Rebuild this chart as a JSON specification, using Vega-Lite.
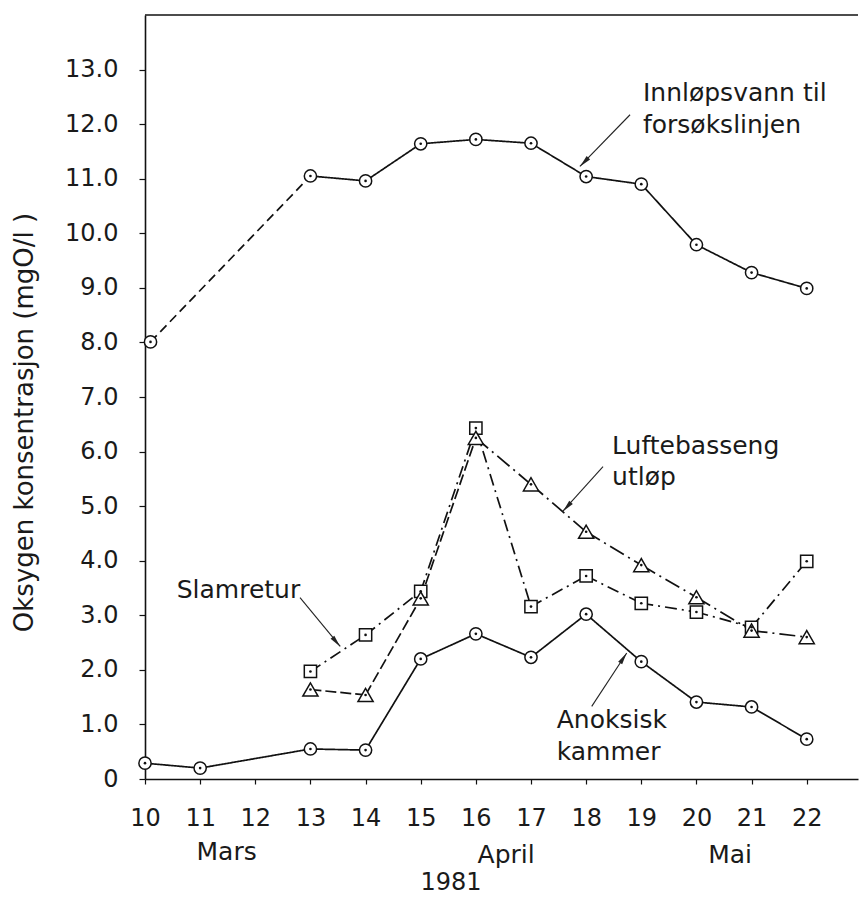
{
  "$schema": "https://vega.github.io/schema/vega-lite/v6.json",
  "autosize": {"type": "none"},
  "padding": {"left": 145, "top": 15, "right": 1, "bottom": 118},
  "width": 713,
  "height": 764,
  "background": "white",
  "config": {"view": {"stroke": null}, "font": "DejaVu Sans"},
  "datasets": {
    "obs": [
      {"series": "Innløpsvann", "day": 10.1, "val": 8.01, "seg": "dash"},
      {"series": "Innløpsvann", "day": 13, "val": 11.05, "seg": "solid"},
      {"series": "Innløpsvann", "day": 14, "val": 10.96, "seg": "solid"},
      {"series": "Innløpsvann", "day": 15, "val": 11.64, "seg": "solid"},
      {"series": "Innløpsvann", "day": 16, "val": 11.72, "seg": "solid"},
      {"series": "Innløpsvann", "day": 17, "val": 11.65, "seg": "solid"},
      {"series": "Innløpsvann", "day": 18, "val": 11.04, "seg": "solid"},
      {"series": "Innløpsvann", "day": 19, "val": 10.9, "seg": "solid"},
      {"series": "Innløpsvann", "day": 20, "val": 9.79, "seg": "solid"},
      {"series": "Innløpsvann", "day": 21, "val": 9.28, "seg": "solid"},
      {"series": "Innløpsvann", "day": 22, "val": 8.99, "seg": "solid"},
      {"series": "Anoksisk kammer", "day": 10, "val": 0.29, "seg": "solid"},
      {"series": "Anoksisk kammer", "day": 11, "val": 0.2, "seg": "solid"},
      {"series": "Anoksisk kammer", "day": 13, "val": 0.55, "seg": "solid"},
      {"series": "Anoksisk kammer", "day": 14, "val": 0.53, "seg": "solid"},
      {"series": "Anoksisk kammer", "day": 15, "val": 2.2, "seg": "solid"},
      {"series": "Anoksisk kammer", "day": 16, "val": 2.66, "seg": "solid"},
      {"series": "Anoksisk kammer", "day": 17, "val": 2.23, "seg": "solid"},
      {"series": "Anoksisk kammer", "day": 18, "val": 3.02, "seg": "solid"},
      {"series": "Anoksisk kammer", "day": 19, "val": 2.15, "seg": "solid"},
      {"series": "Anoksisk kammer", "day": 20, "val": 1.41, "seg": "solid"},
      {"series": "Anoksisk kammer", "day": 21, "val": 1.32, "seg": "solid"},
      {"series": "Anoksisk kammer", "day": 22, "val": 0.73, "seg": "solid"},
      {"series": "Slamretur", "day": 13, "val": 1.97, "seg": "dashdot"},
      {"series": "Slamretur", "day": 14, "val": 2.64, "seg": "dashdot"},
      {"series": "Slamretur", "day": 15, "val": 3.44, "seg": "dashdot"},
      {"series": "Slamretur", "day": 16, "val": 6.43, "seg": "dashdot"},
      {"series": "Slamretur", "day": 17, "val": 3.16, "seg": "dashdot"},
      {"series": "Slamretur", "day": 18, "val": 3.72, "seg": "dashdot"},
      {"series": "Slamretur", "day": 19, "val": 3.22, "seg": "dashdot"},
      {"series": "Slamretur", "day": 20, "val": 3.06, "seg": "dashdot"},
      {"series": "Slamretur", "day": 21, "val": 2.78, "seg": "dashdot"},
      {"series": "Slamretur", "day": 22, "val": 3.99, "seg": "dashdot"},
      {"series": "Luftebasseng utløp", "day": 13, "val": 1.64, "seg": "dash2"},
      {"series": "Luftebasseng utløp", "day": 14, "val": 1.54, "seg": "dash2"},
      {"series": "Luftebasseng utløp", "day": 15, "val": 3.31, "seg": "dash2"},
      {"series": "Luftebasseng utløp", "day": 16, "val": 6.25, "seg": "longdashdot"},
      {"series": "Luftebasseng utløp", "day": 17, "val": 5.4, "seg": "longdashdot"},
      {"series": "Luftebasseng utløp", "day": 18, "val": 4.53, "seg": "longdashdot"},
      {"series": "Luftebasseng utløp", "day": 19, "val": 3.92, "seg": "longdashdot"},
      {"series": "Luftebasseng utløp", "day": 20, "val": 3.33, "seg": "longdashdot"},
      {"series": "Luftebasseng utløp", "day": 21, "val": 2.72, "seg": "longdashdot"},
      {"series": "Luftebasseng utløp", "day": 22, "val": 2.6, "seg": "longdashdot"}
    ],
    "notes": [
      {"label": "Innløpsvann til", "day": 19.03, "val": 12.42},
      {"label": "forsøkslinjen", "day": 19.03, "val": 11.84},
      {"label": "Luftebasseng", "day": 18.47, "val": 5.96},
      {"label": "utløp", "day": 18.47, "val": 5.39},
      {"label": "Slamretur", "day": 10.575, "val": 3.32},
      {"label": "Anoksisk", "day": 17.466, "val": 0.93},
      {"label": "kammer", "day": 17.466, "val": 0.35}
    ],
    "months": [
      {"label": "Mars", "day": 11.48, "val": -1.48},
      {"label": "April", "day": 16.55, "val": -1.54},
      {"label": "Mai", "day": 20.61, "val": -1.54}
    ],
    "year": [
      {"label": "1981", "day": 15.55, "val": -2.13}
    ],
    "arrows": [
      {"name": "Innløpsvann", "day": 18.796, "val": 12.172, "day2": 17.886, "val2": 11.224, "hday": 17.965, "hval": 11.305},
      {"name": "Luftebasseng", "day": 18.306, "val": 5.723, "day2": 17.574, "val2": 4.904, "hday": 17.653, "hval": 4.986},
      {"name": "Slamretur", "day": 12.811, "val": 3.322, "day2": 13.541, "val2": 2.432, "hday": 13.468, "hval": 2.514},
      {"name": "Anoksisk", "day": 18.101, "val": 1.33, "day2": 18.736, "val2": 2.309, "hday": 18.676, "hval": 2.217}
    ]
  },
  "layer": [
    {
      "data": {"values": [{}]},
      "mark": {"type": "rule", "color": "#111", "strokeWidth": 1.6},
      "encoding": {"y": {"datum": 14, "type": "quantitative", "scale": {"domain": [0, 14], "nice": false, "zero": false}, "axis": {"values": [0,1,2,3,4,5,6,7,8,9,10,11,12,13], "labelExpr": "datum.value == 0 ? '0' : format(datum.value, '.1f')", "title": "Oksygen konsentrasjon (mgO/l )", "titleFont": "DejaVu Sans", "titleFontSize": 26, "titleFontWeight": "normal", "titleColor": "#1a1a1a", "titleX": -113, "titleY": 407, "titleAngle": -90, "titleAlign": "center", "titleBaseline": "alphabetic", "grid": false, "domainColor": "#111", "domainWidth": 1.6, "tickColor": "#111", "tickSize": 6, "tickWidth": 1.2, "labelFont": "DejaVu Sans", "labelFontSize": 24, "labelColor": "#1a1a1a", "labelPadding": 21, "labelFlush": false, "labelOverlap": false}}}
    },
    {
      "data": {"name": "obs"},
      "transform": [
        {"window": [{"op": "lead", "field": "day", "as": "day2"}, {"op": "lead", "field": "val", "as": "val2"}], "groupby": ["series"], "sort": [{"field": "day", "order": "ascending"}]},
        {"filter": "datum.day2 != null"}
      ],
      "mark": {"type": "rule", "color": "#111", "strokeWidth": 1.7},
      "encoding": {
        "x": {"field": "day", "type": "quantitative", "scale": {"domain": [10, 22.93], "nice": false, "zero": false}, "axis": {"values": [10,11,12,13,14,15,16,17,18,19,20,21,22], "format": "d", "title": null, "grid": false, "domainColor": "#111", "domainWidth": 1.6, "tickColor": "#111", "tickSize": 5, "tickWidth": 1.2, "labelFont": "DejaVu Sans", "labelFontSize": 24, "labelColor": "#1a1a1a", "labelPadding": 22, "labelFlush": false, "labelOverlap": false}},
        "y": {"field": "val", "type": "quantitative", "scale": {"domain": [0, 14], "nice": false, "zero": false}, "axis": {"values": [0,1,2,3,4,5,6,7,8,9,10,11,12,13], "labelExpr": "datum.value == 0 ? '0' : format(datum.value, '.1f')", "title": "Oksygen konsentrasjon (mgO/l )", "titleFont": "DejaVu Sans", "titleFontSize": 26, "titleFontWeight": "normal", "titleColor": "#1a1a1a", "titleX": -113, "titleY": 407, "titleAngle": -90, "titleAlign": "center", "titleBaseline": "alphabetic", "grid": false, "domainColor": "#111", "domainWidth": 1.6, "tickColor": "#111", "tickSize": 6, "tickWidth": 1.2, "labelFont": "DejaVu Sans", "labelFontSize": 24, "labelColor": "#1a1a1a", "labelPadding": 21, "labelFlush": false, "labelOverlap": false}},
        "x2": {"field": "day2"},
        "y2": {"field": "val2"},
        "strokeDash": {"field": "seg", "type": "nominal", "scale": {"domain": ["solid", "dash", "dashdot", "dash2", "longdashdot"], "range": [[1, 0], [9, 5], [12, 5, 2, 5], [11, 4], [16, 5, 2, 5]]}, "legend": null}
      }
    },
    {
      "data": {"name": "obs"},
      "transform": [{"filter": "datum.series != 'Luftebasseng utløp'"}],
      "mark": {"type": "point", "filled": true, "fill": "white", "stroke": "#111", "strokeWidth": 1.5, "size": 150, "opacity": 1},
      "encoding": {
        "x": {"field": "day", "type": "quantitative", "scale": {"domain": [10, 22.93], "nice": false, "zero": false}},
        "y": {"field": "val", "type": "quantitative", "scale": {"domain": [0, 14], "nice": false, "zero": false}},
        "shape": {"field": "series", "type": "nominal", "scale": {"domain": ["Innløpsvann", "Anoksisk kammer", "Slamretur", "Luftebasseng utløp"], "range": ["circle", "circle", "square", "triangle-up"]}, "legend": null}
      }
    },
    {
      "data": {"name": "obs"},
      "transform": [{"filter": "datum.series == 'Luftebasseng utløp'"}],
      "mark": {"type": "point", "shape": "triangle-up", "filled": true, "fill": "white", "stroke": "#111", "strokeWidth": 1.5, "size": 230, "opacity": 1},
      "encoding": {
        "x": {"field": "day", "type": "quantitative", "scale": {"domain": [10, 22.93], "nice": false, "zero": false}},
        "y": {"field": "val", "type": "quantitative", "scale": {"domain": [0, 14], "nice": false, "zero": false}}
      }
    },
    {
      "data": {"name": "obs"},
      "mark": {"type": "point", "shape": "circle", "filled": true, "color": "#111", "size": 7, "opacity": 1},
      "encoding": {
        "x": {"field": "day", "type": "quantitative", "scale": {"domain": [10, 22.93], "nice": false, "zero": false}},
        "y": {"field": "val", "type": "quantitative", "scale": {"domain": [0, 14], "nice": false, "zero": false}}
      }
    },
    {
      "data": {"name": "arrows"},
      "mark": {"type": "rule", "color": "#222", "strokeWidth": 1.1},
      "encoding": {
        "x": {"field": "day", "type": "quantitative", "scale": {"domain": [10, 22.93], "nice": false, "zero": false}},
        "y": {"field": "val", "type": "quantitative", "scale": {"domain": [0, 14], "nice": false, "zero": false}},
        "x2": {"field": "day2"},
        "y2": {"field": "val2"}
      }
    },
    {
      "data": {"name": "arrows"},
      "transform": [{"filter": "datum.name == 'Innløpsvann'"}],
      "mark": {"type": "point", "shape": "M0,-1L-0.4,1L0.4,1Z", "filled": true, "color": "#222", "size": 144, "opacity": 1, "angle": 224},
      "encoding": {
        "x": {"field": "hday", "type": "quantitative", "scale": {"domain": [10, 22.93], "nice": false, "zero": false}},
        "y": {"field": "hval", "type": "quantitative", "scale": {"domain": [0, 14], "nice": false, "zero": false}}
      }
    },
    {
      "data": {"name": "arrows"},
      "transform": [{"filter": "datum.name == 'Luftebasseng'"}],
      "mark": {"type": "point", "shape": "M0,-1L-0.4,1L0.4,1Z", "filled": true, "color": "#222", "size": 144, "opacity": 1, "angle": 222},
      "encoding": {
        "x": {"field": "hday", "type": "quantitative", "scale": {"domain": [10, 22.93], "nice": false, "zero": false}},
        "y": {"field": "hval", "type": "quantitative", "scale": {"domain": [0, 14], "nice": false, "zero": false}}
      }
    },
    {
      "data": {"name": "arrows"},
      "transform": [{"filter": "datum.name == 'Slamretur'"}],
      "mark": {"type": "point", "shape": "M0,-1L-0.4,1L0.4,1Z", "filled": true, "color": "#222", "size": 144, "opacity": 1, "angle": 141},
      "encoding": {
        "x": {"field": "hday", "type": "quantitative", "scale": {"domain": [10, 22.93], "nice": false, "zero": false}},
        "y": {"field": "hval", "type": "quantitative", "scale": {"domain": [0, 14], "nice": false, "zero": false}}
      }
    },
    {
      "data": {"name": "arrows"},
      "transform": [{"filter": "datum.name == 'Anoksisk'"}],
      "mark": {"type": "point", "shape": "M0,-1L-0.4,1L0.4,1Z", "filled": true, "color": "#222", "size": 144, "opacity": 1, "angle": 33},
      "encoding": {
        "x": {"field": "hday", "type": "quantitative", "scale": {"domain": [10, 22.93], "nice": false, "zero": false}},
        "y": {"field": "hval", "type": "quantitative", "scale": {"domain": [0, 14], "nice": false, "zero": false}}
      }
    },
    {
      "data": {"name": "notes"},
      "mark": {"type": "text", "align": "left", "baseline": "alphabetic", "font": "DejaVu Sans", "fontSize": 25, "color": "#1a1a1a"},
      "encoding": {
        "x": {"field": "day", "type": "quantitative", "scale": {"domain": [10, 22.93], "nice": false, "zero": false}},
        "y": {"field": "val", "type": "quantitative", "scale": {"domain": [0, 14], "nice": false, "zero": false}},
        "text": {"field": "label"}
      }
    },
    {
      "data": {"name": "months"},
      "mark": {"type": "text", "align": "center", "baseline": "alphabetic", "font": "DejaVu Sans", "fontSize": 25, "color": "#1a1a1a"},
      "encoding": {
        "x": {"field": "day", "type": "quantitative", "scale": {"domain": [10, 22.93], "nice": false, "zero": false}},
        "y": {"field": "val", "type": "quantitative", "scale": {"domain": [0, 14], "nice": false, "zero": false}},
        "text": {"field": "label"}
      }
    },
    {
      "data": {"name": "year"},
      "mark": {"type": "text", "align": "center", "baseline": "bottom", "font": "DejaVu Sans", "fontSize": 24, "color": "#1a1a1a"},
      "encoding": {
        "x": {"field": "day", "type": "quantitative", "scale": {"domain": [10, 22.93], "nice": false, "zero": false}},
        "y": {"field": "val", "type": "quantitative", "scale": {"domain": [0, 14], "nice": false, "zero": false}},
        "text": {"field": "label"}
      }
    }
  ]
}
